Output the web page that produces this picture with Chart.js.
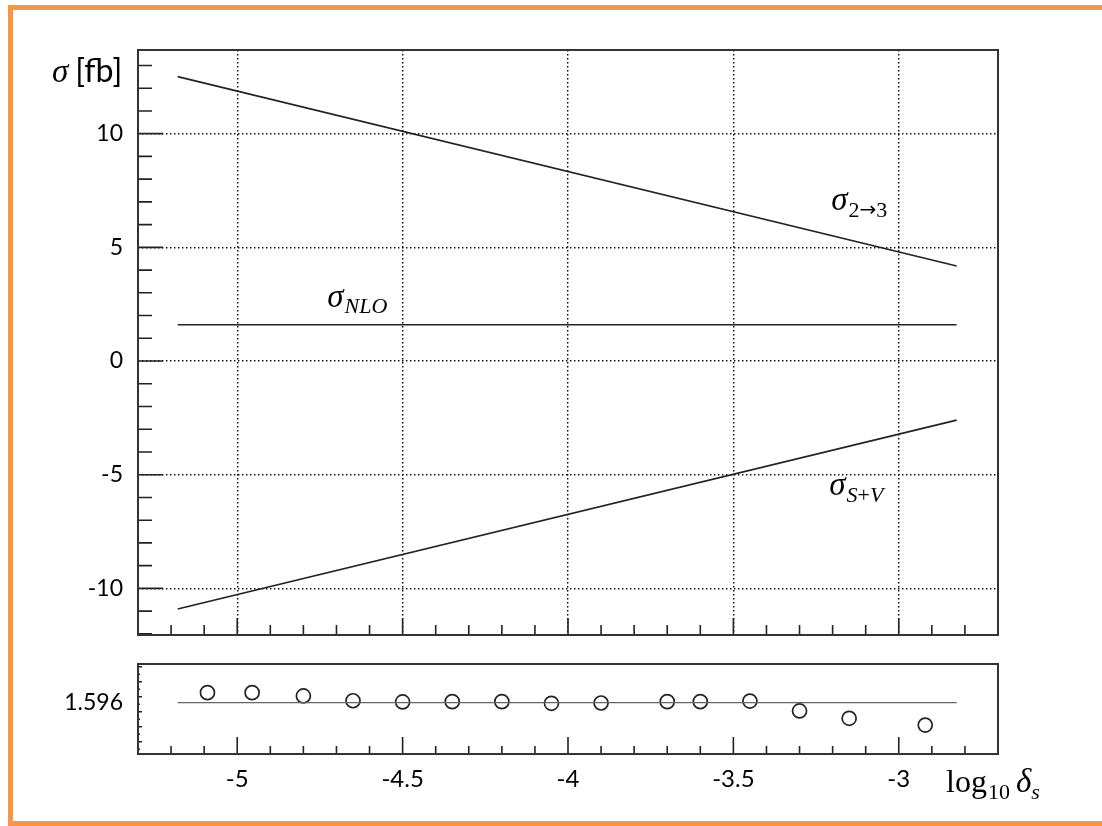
<!DOCTYPE html>
<html>
<head>
<meta charset="utf-8">
<script src="https://cdn.jsdelivr.net/npm/chart.js@4.4.0/dist/chart.umd.min.js"></script>
<style>
  html, body { margin: 0; padding: 0; background: #fff; width: 1102px; height: 826px; overflow: hidden; }
  #frame { position: absolute; left: 8px; top: 5px; width: 1110px; height: 811px; border: 5px solid #f79646; }
  canvas { position: absolute; left: 0; }
</style>
</head>
<body>
<div id="frame"></div>
<canvas id="top" width="1102" height="664" style="top:0"></canvas>
<canvas id="bot" width="1102" height="192" style="top:634px"></canvas>
<script>
// x axis: log10 delta_s
const xMajor = [-5, -4.5, -4, -3.5, -3]
const xMinor = [-5.2, -5.1, -4.9, -4.8, -4.7, -4.6, -4.4, -4.3, -4.2, -4.1,
  -3.9, -3.8, -3.7, -3.6, -3.4, -3.3, -3.2, -3.1, -2.9, -2.8]

// y axis of the upper panel, sigma [fb]
const yMajor = [-10, -5, 0, 5, 10]
const yMinor = [-12, -11, -9, -8, -7, -6, -4, -3, -2, -1, 1, 2, 3, 4, 6, 7, 8, 9, 11, 12, 13]

// the three lines (end points)
const lineX = [-5.18, -2.825]
const sigma23 = [12.51, 4.18]
const sigmaNLO = [1.596, 1.596]
const sigmaSV = [-10.91, -2.6]

// lower panel: sigma_NLO for each delta_s
const deltaLog = [-5.09, -4.955, -4.8, -4.65, -4.5, -4.35, -4.2, -4.05, -3.9, -3.7, -3.6, -3.45, -3.3, -3.15, -2.92]
const ratioNLO = [1.59667, 1.59667, 1.59645, 1.59613, 1.59605, 1.59607, 1.59607, 1.59596,
  1.59598, 1.59607, 1.59607, 1.59611, 1.59545, 1.59496, 1.59451]
const ratioMajor = [1.596]
const ratioMinor = [1.5934, 1.5944, 1.5954, 1.5964, 1.5974, 1.5984]
const ratioTiny = [1.5929, 1.5939, 1.5949, 1.5959, 1.5969, 1.5979]

const TICK_FONT = { family: "Lato", size: 23 }
const X_TICK_FONT = { family: "Lato", size: 24 }
const SERIF = "'Liberation Serif', 'DejaVu Serif', serif"

const pts = (xs, ys) => xs.map((x, i) => ({ x, y: ys[i] }))
const has = (list, v) => list.some((m) => Math.abs(m - v) < 1e-9)
const setTicks = (vals) => (scale) => {
  scale.ticks = vals.slice().sort((a, b) => a - b).map((v) => ({ value: v }))
}

function drawMath(ctx, x, y, parts) {
  let cx = x
  parts.forEach((p) => {
    ctx.font = p.font
    ctx.fillText(p.t, cx, y + (p.dy || 0))
    cx += ctx.measureText(p.t).width + (p.gap || 0)
  })
}

// ticks pointing into the plot + frame around it
function frameTicks(spec) {
  return {
    id: "frameTicks",
    afterDraw(chart) {
      const { ctx, chartArea: a, scales } = chart
      ctx.save()
      ctx.strokeStyle = "#222"
      ctx.lineWidth = 1.6
      ctx.beginPath()
      spec.x.forEach(([vals, len]) => vals.forEach((v) => {
        const px = scales.x.getPixelForValue(v)
        ctx.moveTo(px, a.bottom)
        ctx.lineTo(px, a.bottom - len)
      }))
      spec.y.forEach(([vals, len]) => vals.forEach((v) => {
        const py = scales.y.getPixelForValue(v)
        ctx.moveTo(a.left, py)
        ctx.lineTo(a.left + len, py)
      }))
      ctx.stroke()
      ctx.strokeStyle = "#333"
      ctx.lineWidth = 2
      ctx.strokeRect(a.left, a.top, a.right - a.left, a.bottom - a.top)
      if (spec.text) spec.text(ctx, chart)
      ctx.restore()
    },
  }
}

const xScale = (showLabels) => ({
  type: "linear",
  min: -5.3,
  max: -2.7,
  afterBuildTicks: setTicks([...xMajor, ...xMinor]),
  afterFit: (s) => { s.height = showLabels ? 72 : 29 },
  grid: {
    display: !showLabels,
    drawTicks: false,
    lineWidth: 1.4,
    color: (c) => (has(xMajor, c.tick.value) ? "#000" : "rgba(0,0,0,0)"),
  },
  border: { display: false, dash: [1.4, 2.6] },
  ticks: {
    display: showLabels,
    autoSkip: false,
    maxRotation: 0,
    padding: 11,
    font: X_TICK_FONT,
    color: "#000",
    callback: (v) => (has(xMajor, v) ? String(v) : ""),
  },
})

new Chart(document.getElementById("top"), {
  type: "scatter",
  data: {
    datasets: [sigma23, sigmaNLO, sigmaSV].map((ys) => ({
      data: pts(lineX, ys),
      showLine: true,
      pointRadius: 0,
      borderColor: "#222",
      borderWidth: 1.6,
      fill: false,
    })),
  },
  options: {
    responsive: false,
    animation: false,
    layout: { padding: { left: 0, top: 50, right: 104, bottom: 0 } },
    plugins: { legend: { display: false }, tooltip: { enabled: false } },
    scales: {
      x: xScale(false),
      y: {
        type: "linear",
        min: -12.05,
        max: 13.68,
        afterBuildTicks: setTicks([...yMajor, ...yMinor]),
        afterFit: (s) => { s.width = 138 },
        grid: {
          drawTicks: false,
          lineWidth: 1.4,
          color: (c) => (has(yMajor, c.tick.value) ? "#000" : "rgba(0,0,0,0)"),
        },
        border: { display: false, dash: [1.4, 2.6] },
        ticks: {
          autoSkip: false,
          padding: 15,
          font: TICK_FONT,
          color: "#000",
          callback: (v) => (has(yMajor, v) ? String(v) : ""),
        },
      },
    },
  },
  plugins: [frameTicks({
    x: [[xMajor, 17], [xMinor, 10]],
    y: [[yMajor, 25], [yMinor, 14]],
    text(ctx, chart) {
      const { x, y } = chart.scales
      const a = chart.chartArea
      ctx.fillStyle = "#000"
      ctx.textBaseline = "alphabetic"
      ctx.textAlign = "left"
      const sig = "italic 33px " + SERIF
      const subI = "italic 22px " + SERIF
      const subR = "22px " + SERIF
      drawMath(ctx, a.left - 86, 82, [
        { t: "σ", font: sig, gap: 7 },
        { t: "[fb]", font: "32px Lato" },
      ])
      drawMath(ctx, x.getPixelForValue(-3.204), y.getPixelForValue(6.64), [
        { t: "σ", font: sig, gap: 1 },
        { t: "2", font: subR, dy: 7 },
        { t: "→", font: "20px 'DejaVu Sans'", dy: 6 },
        { t: "3", font: subR, dy: 7 },
      ])
      drawMath(ctx, x.getPixelForValue(-4.728), y.getPixelForValue(2.38), [
        { t: "σ", font: sig, gap: 1 },
        { t: "NLO", font: subI, dy: 6 },
      ])
      drawMath(ctx, x.getPixelForValue(-3.21), y.getPixelForValue(-5.9), [
        { t: "σ", font: sig, gap: 1 },
        { t: "S", font: subI, dy: 7 },
        { t: "+", font: subR, dy: 7 },
        { t: "V", font: subI, dy: 7 },
      ])
    },
  })],
})

new Chart(document.getElementById("bot"), {
  type: "scatter",
  data: {
    datasets: [
      {
        data: pts(lineX, sigmaNLO),
        showLine: true,
        pointRadius: 0,
        borderColor: "#666",
        borderWidth: 1.3,
      },
      {
        data: pts(deltaLog, ratioNLO),
        showLine: false,
        pointRadius: 7,
        pointBorderWidth: 1.7,
        pointBorderColor: "#222",
        pointBackgroundColor: "rgba(0,0,0,0)",
      },
    ],
  },
  options: {
    responsive: false,
    animation: false,
    layout: { padding: { left: 0, top: 30, right: 104, bottom: 0 } },
    plugins: { legend: { display: false }, tooltip: { enabled: false } },
    scales: {
      x: xScale(true),
      y: {
        type: "linear",
        min: 1.59258,
        max: 1.59858,
        afterBuildTicks: setTicks([...ratioMajor, ...ratioMinor, ...ratioTiny]),
        afterFit: (s) => { s.width = 138 },
        grid: { display: false, drawTicks: false },
        border: { display: false },
        ticks: {
          autoSkip: false,
          padding: 15,
          font: TICK_FONT,
          color: "#000",
          callback: (v) => (has(ratioMajor, v) ? String(v) : ""),
        },
      },
    },
  },
  plugins: [frameTicks({
    x: [[xMajor, 17], [xMinor, 8]],
    y: [[ratioMinor, 4], [ratioTiny, 2]],
    text(ctx, chart) {
      const a = chart.chartArea
      ctx.fillStyle = "#000"
      ctx.textBaseline = "alphabetic"
      ctx.textAlign = "left"
      drawMath(ctx, a.right - 52, a.bottom + 38, [
        { t: "log", font: "32px " + SERIF, gap: 1 },
        { t: "10", font: "22px " + SERIF, dy: 7, gap: 6 },
        { t: "δ", font: "italic 33px " + SERIF },
        { t: "s", font: "italic 22px " + SERIF, dy: 7 },
      ])
    },
  })],
})
</script>
</body>
</html>
